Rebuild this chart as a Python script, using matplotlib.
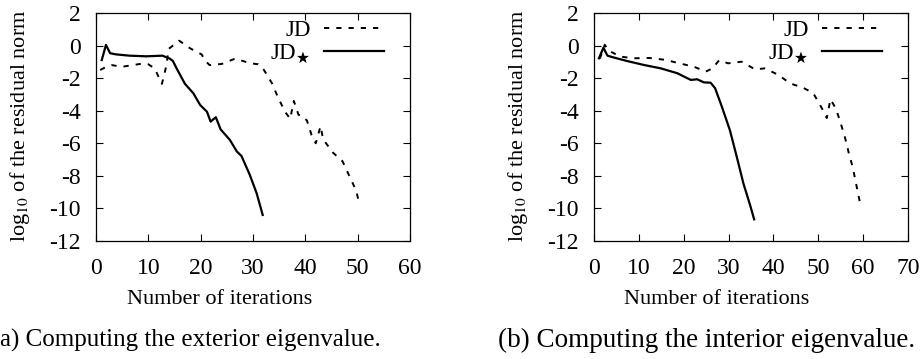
import matplotlib
matplotlib.use("Agg")
import matplotlib.pyplot as plt
from matplotlib.lines import Line2D

# ---------------- data ----------------
# (a) exterior eigenvalue
ext_jd_iter = [0.8, 2, 3, 5, 7, 9, 10, 11.2, 12.6, 13.4, 13.9, 15.9, 18, 20.2, 20.8, 21.7,
               24, 26.6, 29.4, 31, 32.1, 33.6, 34.8, 36.1, 37.1, 37.8, 38.7, 39.3, 40.3,
               41.2, 42.0, 42.9, 43.4, 45.2, 47.1, 48.4, 49.7, 50.4]
ext_jd_res = [-1.5, -1.3, -1.2, -1.3, -1.2, -1.1, -1.15, -1.4, -2.35, -1.3, -0.2, 0.3, -0.17,
              -0.55, -0.9, -1.2, -1.13, -0.8, -1.08, -1.15, -1.5, -2.3, -3.2, -4.05, -4.5,
              -3.4, -4.25, -4.3, -4.6, -5.5, -6.0, -4.95, -5.75, -6.55, -7.1, -8.0, -8.9, -9.8]

ext_jds_iter = [1.1, 1.9, 2.7, 3.8, 6.4, 9.6, 12.7, 14.1, 14.7, 15.4, 15.9, 17.0, 18.6, 19.9,
                21.2, 21.9, 22.9, 23.8, 25.6, 26.9, 27.8, 29.4, 30.7, 31.85]
ext_jds_res = [-0.89, 0.04, -0.47, -0.54, -0.62, -0.66, -0.62, -0.8, -0.95, -1.4, -1.7, -2.35,
               -2.93, -3.65, -4.06, -4.67, -4.4, -5.14, -5.8, -6.5, -6.78, -7.95, -9.07, -10.4]

# (b) interior eigenvalue
int_jd_iter = [1.3, 2.4, 3.2, 5.9, 8.9, 12.3, 16.0, 19.0, 22.3, 24.9, 26.4, 27.9, 29.9, 32.9,
               35.9, 38.1, 41.1, 43.7, 46.7, 48.9, 50.8, 51.9, 52.7, 53.9, 55.0, 56.0, 56.8,
               57.7, 58.4, 59.3]
int_jd_res = [-0.8, 0.05, -0.3, -0.68, -0.78, -0.76, -0.88, -1.09, -1.3, -1.6, -1.4, -0.9,
              -1.09, -0.99, -1.46, -1.4, -1.8, -2.32, -2.6, -2.93, -3.85, -4.45, -3.3, -3.85,
              -4.77, -5.7, -6.6, -7.5, -8.45, -9.65]

int_jds_iter = [1.1, 2.1, 3.0, 4.5, 7.4, 11.1, 14.9, 18.6, 20.1, 21.6, 23.0, 24.5, 26.0, 27.0,
                28.5, 30.3, 31.8, 33.3, 34.8, 35.7]
int_jds_res = [-0.78, -0.13, -0.62, -0.74, -0.95, -1.19, -1.4, -1.7, -1.91, -2.11, -2.07, -2.26,
               -2.28, -2.62, -3.75, -5.2, -6.8, -8.46, -9.8, -10.67]

y_ticks = [-12, -10, -8, -6, -4, -2, 0, 2]
x_ticks_a = [0, 10, 20, 30, 40, 50, 60]
x_ticks_b = [0, 10, 20, 30, 40, 50, 60, 70]

label_jd = "JD"
label_jds = r"JD$_{\bigstar}$"
xlabel = "Number of iterations"
ylabel = r"log$_{10}$ of the residual norm"
caption_a = "a) Computing the exterior eigenvalue."
caption_b = "(b) Computing the interior eigenvalue."

# ---------------- style ----------------
plt.rcParams["font.family"] = ["Liberation Serif", "DejaVu Serif"]
plt.rcParams["mathtext.fontset"] = "stix"
plt.rcParams["axes.unicode_minus"] = False

W, H = 924, 359
fig = plt.figure(figsize=(W / 100, H / 100), dpi=100)


def px_axes(x0, y0, x1, y1):
    return [x0 / W, 1 - y1 / H, (x1 - x0) / W, (y1 - y0) / H]


dash = (0, (2.7, 3.6))


def setup(ax, xticks, xmax):
    ax.set_xlim(0, xmax)
    ax.set_ylim(-12, 2)
    ax.set_xticks(xticks)
    ax.set_yticks(y_ticks)
    ax.tick_params(direction="in", top=True, right=True, length=5, width=0.8,
                   labelsize=17)
    ax.tick_params(axis="x", pad=12)
    ax.tick_params(axis="y", pad=11)
    for s in ax.spines.values():
        s.set_linewidth(0.9)
    handles = [Line2D([], [], color="black", lw=1.4, linestyle=dash),
               Line2D([], [], color="black", lw=1.6)]
    ax.legend(handles, [label_jd, label_jds], loc="upper right", frameon=False,
              bbox_to_anchor=(1 - 26 / 314, 1 - 7 / 228),
              markerfirst=False, handlelength=2.6, fontsize=16.5, borderaxespad=0,
              borderpad=0, labelspacing=0.05, handletextpad=0.6)


ax1 = fig.add_axes(px_axes(96, 13, 410, 241))
ax1.plot(ext_jd_iter, ext_jd_res, color="black", lw=1.4, linestyle=dash)
ax1.plot(ext_jds_iter, ext_jds_res, color="black", lw=1.6)
setup(ax1, x_ticks_a, 60)

ax2 = fig.add_axes(px_axes(594, 13, 908, 241))
ax2.plot(int_jd_iter, int_jd_res, color="black", lw=1.4, linestyle=dash)
ax2.plot(int_jds_iter, int_jds_res, color="black", lw=1.6)
setup(ax2, x_ticks_b, 70)

# axis labels
fig.text(20 / W, 1 - 126 / H, ylabel, rotation=90, ha="center", va="center", fontsize=16)
fig.text(518 / W, 1 - 126 / H, ylabel, rotation=90, ha="center", va="center", fontsize=16)
fig.text(220 / W, 1 - 300 / H, xlabel, ha="center", va="center", fontsize=16)
fig.text(717 / W, 1 - 300 / H, xlabel, ha="center", va="center", fontsize=16)

# captions
fig.text(0 / W, 1 - 340 / H, caption_a, ha="left", va="center", fontsize=18)
fig.text(498 / W, 1 - 340 / H, caption_b, ha="left", va="center", fontsize=19.5)

fig.savefig("out.png", dpi=100)
